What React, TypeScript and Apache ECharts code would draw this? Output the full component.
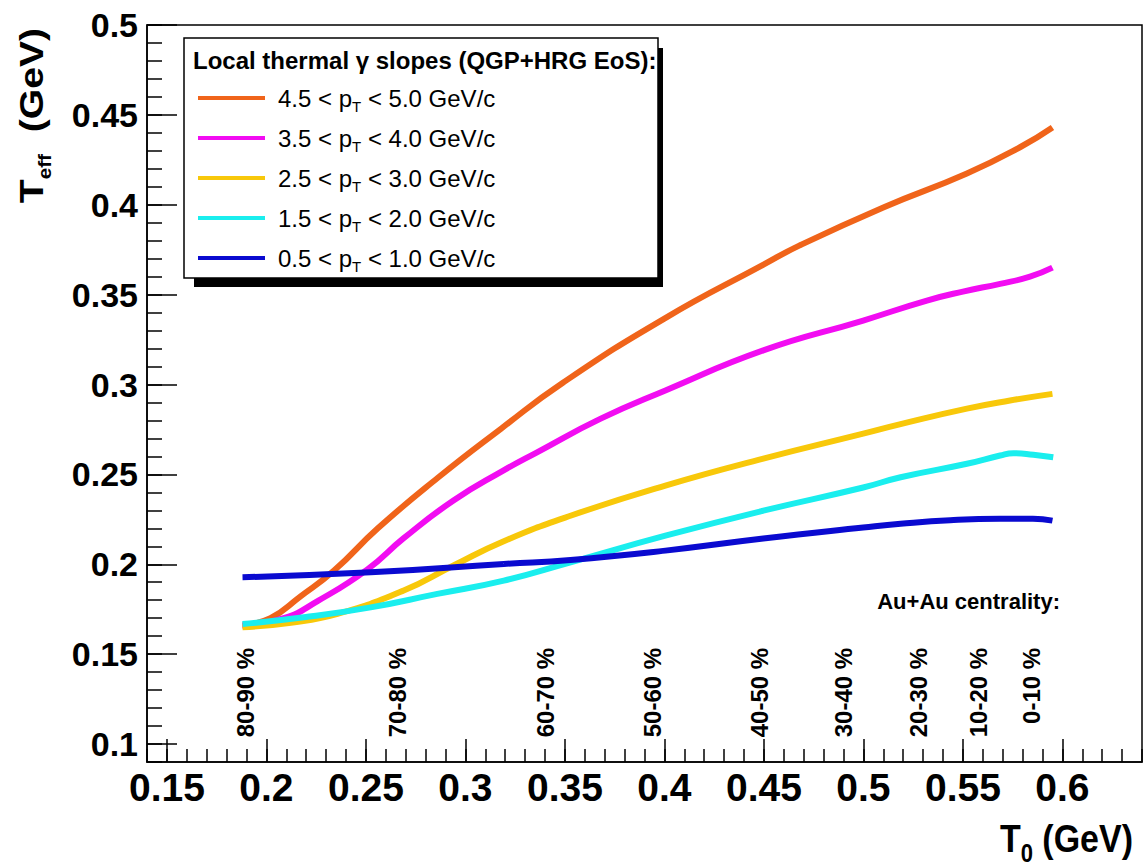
import React, { useEffect, useRef } from 'react';
import * as echarts from 'echarts';

// Axis tick values
const xTicks = [0.15, 0.2, 0.25, 0.3, 0.35, 0.4, 0.45, 0.5, 0.55, 0.6];
const yTicks = [0.1, 0.15, 0.2, 0.25, 0.3, 0.35, 0.4, 0.45, 0.5];

// Legend / series labels
const ptLow = ['4.5', '3.5', '2.5', '1.5', '0.5'];
const ptHigh = ['5.0', '4.0', '3.0', '2.0', '1.0'];
const colors = ['#f0641a', '#f20cf2', '#f8c80a', '#1aeeee', '#0a0ad0'];

// Series values (T0 in GeV, Teff in GeV)
const t0Orange = [0.188, 0.202, 0.217, 0.234, 0.256, 0.286, 0.318, 0.349, 0.4, 0.45, 0.468, 0.51, 0.552, 0.5787, 0.595];
const teffOrange = [0.166, 0.17, 0.182, 0.1965, 0.22, 0.248, 0.2755, 0.301, 0.3367, 0.3668, 0.3774, 0.3985, 0.4174, 0.432, 0.443];

const t0Magenta = [0.188, 0.2087, 0.2257, 0.2508, 0.269, 0.294, 0.319, 0.336, 0.368, 0.4005, 0.4497, 0.4999, 0.5319, 0.55, 0.5687, 0.5837, 0.595];
const teffMagenta = [0.166, 0.17, 0.1795, 0.1972, 0.2145, 0.2355, 0.2521, 0.2623, 0.281, 0.2967, 0.319, 0.3356, 0.3467, 0.3517, 0.356, 0.36, 0.365];

const t0Yellow = [0.188, 0.2123, 0.2357, 0.269, 0.294, 0.319, 0.3528, 0.4005, 0.4497, 0.4999, 0.5187, 0.552, 0.5737, 0.595];
const teffYellow = [0.165, 0.1675, 0.1724, 0.1854, 0.1993, 0.2127, 0.227, 0.2438, 0.2588, 0.2727, 0.278, 0.2866, 0.2911, 0.2948];

const t0Cyan = [0.188, 0.2189, 0.2524, 0.2859, 0.3193, 0.3528, 0.4005, 0.4497, 0.4999, 0.5187, 0.552, 0.5687, 0.5754, 0.5854, 0.5954];
const teffCyan = [0.1668, 0.1705, 0.176, 0.1835, 0.1909, 0.2011, 0.2159, 0.2298, 0.2427, 0.2484, 0.2559, 0.2605, 0.2618, 0.2609, 0.2595];

const t0Blue = [0.188, 0.2524, 0.3193, 0.3528, 0.4005, 0.4497, 0.4999, 0.5187, 0.5436, 0.5687, 0.5852, 0.595];
const teffBlue = [0.1928, 0.1955, 0.2002, 0.2024, 0.2076, 0.2143, 0.2204, 0.2225, 0.2245, 0.2253, 0.2253, 0.2243];

const seriesT0 = [t0Orange, t0Magenta, t0Yellow, t0Cyan, t0Blue];
const seriesTeff = [teffOrange, teffMagenta, teffYellow, teffCyan, teffBlue];

// Centrality annotations
const centralityLabels = ['80-90 %', '70-80 %', '60-70 %', '50-60 %', '40-50 %', '30-40 %', '20-30 %', '10-20 %', '0-10 %'];
const centralityT0 = [0.1897, 0.266, 0.34, 0.3938, 0.448, 0.49, 0.5277, 0.5578, 0.5846];
const centralityLabelTeff = 0.1535;

const FONT = "'Liberation Sans', Arial, Helvetica, sans-serif";
const NARROW = "'Liberation Sans Narrow', 'Liberation Sans', Arial, sans-serif";

export default function App() {
  const ref = useRef<HTMLDivElement>(null);

  useEffect(() => {
    const chart = echarts.init(ref.current as HTMLDivElement, null, { renderer: 'svg' });

    const names = ptLow.map((lo, i) => `${lo} < pT < ${ptHigh[i]} GeV/c`);

    const lineSeries = names.map((name, i) => ({
      name,
      type: 'line',
      xAxisIndex: 0,
      yAxisIndex: 0,
      data: seriesT0[i].map((x, j) => [x, seriesTeff[i][j]]),
      showSymbol: false,
      symbol: 'none',
      smooth: 0.5,
      lineStyle: { color: colors[i], width: 6 },
      itemStyle: { color: colors[i] },
      z: 3 + i,
      silent: true,
    }));

    const legendY = [98, 138, 178, 218, 258];
    const legendEls: any[] = [
      { type: 'rect', shape: { x: 194, y: 48, width: 469, height: 239 }, style: { fill: '#000' }, z: 20 },
      { type: 'rect', shape: { x: 184, y: 38, width: 474, height: 240 }, style: { fill: '#fff', stroke: '#000', lineWidth: 1.5 }, z: 21 },
      {
        type: 'text', x: 193, y: 60, z: 22,
        style: { text: 'Local thermal γ slopes (QGP+HRG EoS):', fontSize: 24, fontWeight: 'bold', fontFamily: FONT, fill: '#000', align: 'left', verticalAlign: 'middle' },
      },
    ];
    names.forEach((_, i) => {
      legendEls.push({
        type: 'line', z: 22,
        shape: { x1: 198, y1: legendY[i], x2: 265, y2: legendY[i] },
        style: { stroke: colors[i], lineWidth: 4 },
      });
      legendEls.push({
        type: 'text', x: 278, y: legendY[i], z: 22,
        style: {
          text: `{n|${ptLow[i]} < p}{s|T}{n| < ${ptHigh[i]} GeV/c}`,
          align: 'left', verticalAlign: 'middle', fill: '#000',
          rich: {
            n: { fontSize: 24, fontFamily: FONT, lineHeight: 31, fill: '#000' },
            s: { fontSize: 15, fontFamily: FONT, lineHeight: 15, verticalAlign: 'bottom', fill: '#000' },
          },
        },
      });
    });

    const option: any = {
      animation: false,
      backgroundColor: '#fff',
      grid: { left: 147, right: 3, top: 25, bottom: 105, show: true, borderColor: '#000', borderWidth: 1.5, backgroundColor: 'transparent' },
      xAxis: [
        {
          type: 'value', min: 0.14, max: 0.64, position: 'bottom',
          axisLine: { show: true, onZero: false, lineStyle: { color: '#000', width: 1.5 } },
          axisTick: { show: true, inside: true, length: 23, customValues: xTicks, lineStyle: { color: '#000', width: 1.5 } },
          axisLabel: { show: true, customValues: xTicks, margin: 6, color: '#000', fontSize: 39, fontWeight: 'bold', fontFamily: NARROW },
          splitLine: { show: false },
        },
        {
          type: 'value', min: 0.14, max: 0.64, interval: 0.01, position: 'bottom',
          axisLine: { show: false },
          axisTick: { show: true, inside: true, length: 13, lineStyle: { color: '#000', width: 1.5 } },
          axisLabel: { show: false },
          splitLine: { show: false },
        },
      ],
      yAxis: [
        {
          type: 'value', min: 0.09, max: 0.5, position: 'left',
          axisLine: { show: true, onZero: false, lineStyle: { color: '#000', width: 1.5 } },
          axisTick: { show: true, inside: true, length: 30, customValues: yTicks, lineStyle: { color: '#000', width: 1.5 } },
          axisLabel: { show: true, customValues: yTicks, margin: 9, color: '#000', fontSize: 34, fontWeight: 'bold', fontFamily: FONT },
          splitLine: { show: false },
        },
        {
          type: 'value', min: 0.09, max: 0.5, interval: 0.01, position: 'left',
          axisLine: { show: false },
          axisTick: { show: true, inside: true, length: 15, lineStyle: { color: '#000', width: 1.5 } },
          axisLabel: { show: false },
          splitLine: { show: false },
        },
      ],
      series: [
        ...lineSeries,
        {
          name: 'centrality',
          type: 'scatter',
          xAxisIndex: 0,
          yAxisIndex: 0,
          data: centralityT0.map((x) => [x, centralityLabelTeff]),
          symbolSize: 0.1,
          itemStyle: { color: 'transparent' },
          silent: true,
          z: 2,
          label: {
            show: true,
            position: 'inside',
            rotate: 90,
            align: 'right',
            verticalAlign: 'middle',
            formatter: (p: any) => centralityLabels[p.dataIndex],
            fontSize: 24,
            fontWeight: 'bold',
            fontFamily: FONT,
            color: '#000',
            opacity: 1,
          },
        },
      ],
      graphic: [
        ...legendEls,
        {
          type: 'text', x: 1060, y: 601, z: 22,
          style: { text: 'Au+Au centrality:', fontSize: 22, fontWeight: 'bold', fontFamily: FONT, fill: '#000', align: 'right', verticalAlign: 'middle' },
        },
        {
          type: 'text', x: 31, y: 28, rotation: Math.PI / 2, scaleX: 1.15, z: 22,
          style: {
            text: '{t|T}{s|eff}{t|  (GeV)}',
            align: 'right', verticalAlign: 'middle', fill: '#000',
            rich: {
              t: { fontSize: 34, fontWeight: 'bold', fontFamily: FONT, lineHeight: 46, fill: '#000' },
              s: { fontSize: 18, fontWeight: 'bold', fontFamily: FONT, lineHeight: 18, verticalAlign: 'bottom', fill: '#000' },
            },
          },
        },
        {
          type: 'text', x: 1133, y: 839, scaleY: 1.15, z: 22,
          style: {
            text: '{t|T}{s|0}{t| (GeV)}',
            align: 'right', verticalAlign: 'middle', fill: '#000',
            rich: {
              t: { fontSize: 34, fontWeight: 'bold', fontFamily: FONT, lineHeight: 48, fill: '#000' },
              s: { fontSize: 22, fontWeight: 'bold', fontFamily: FONT, lineHeight: 22, verticalAlign: 'bottom', fill: '#000' },
            },
          },
        },
      ],
    };

    chart.setOption(option);
    return () => chart.dispose();
  }, []);

  return <div ref={ref} style={{ position: 'absolute', left: 0, top: 0, width: 1145, height: 867 }} />;
}
